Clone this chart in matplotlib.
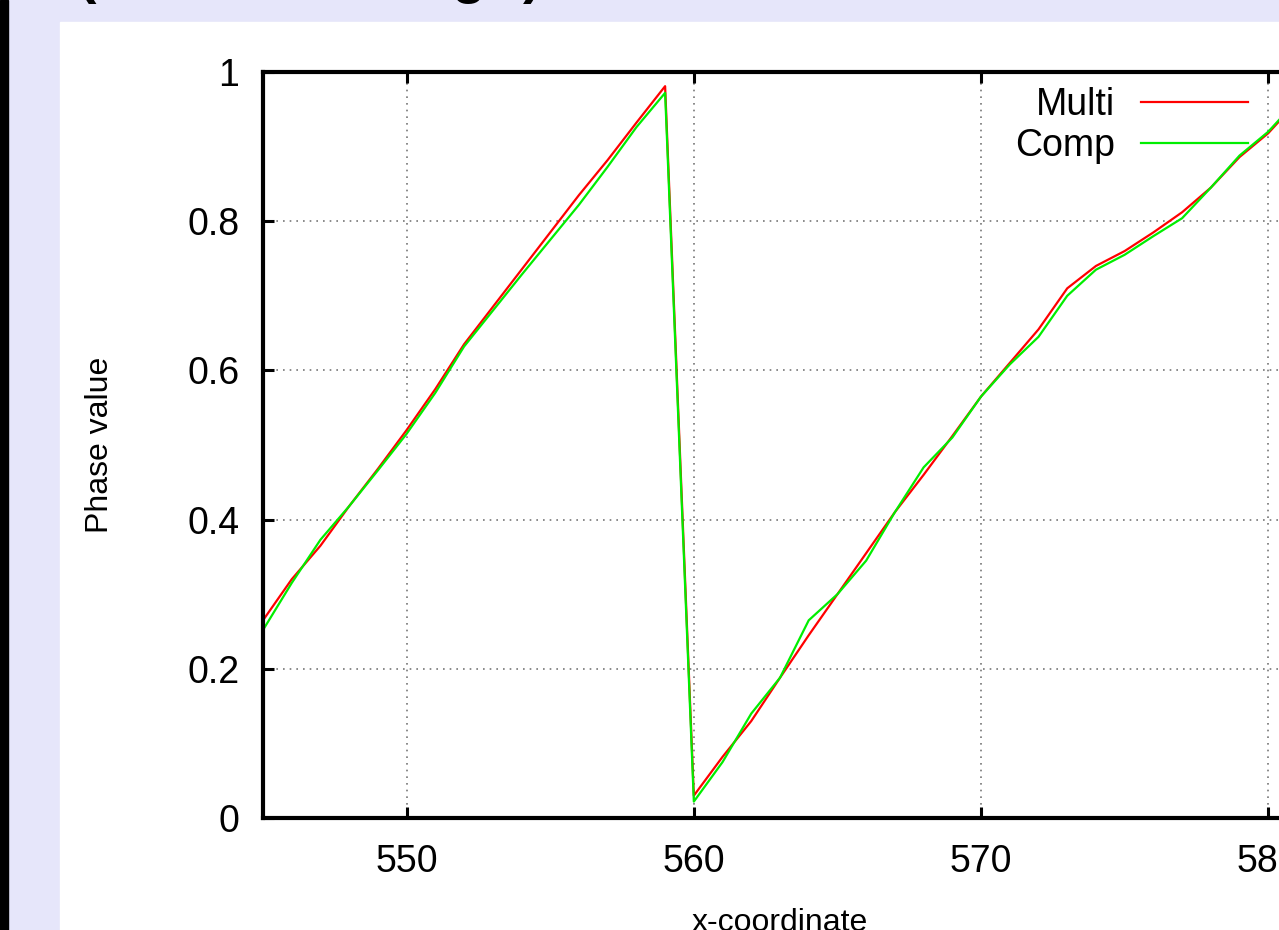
import matplotlib
matplotlib.use('Agg')
import matplotlib.pyplot as plt
from matplotlib.patches import Rectangle

plt.rcParams['font.family'] = ['Liberation Sans', 'DejaVu Sans']

# Phase values, one per integer x-coordinate
x = list(range(545, 582))
multi = [0.265, 0.32, 0.365, 0.418, 0.468, 0.52, 0.575, 0.635, 0.685, 0.735,
         0.785, 0.835, 0.882, 0.932, 0.981, 0.03, 0.082, 0.13, 0.188, 0.245,
         0.30, 0.355, 0.41, 0.46, 0.512, 0.565, 0.61, 0.655, 0.71, 0.74,
         0.76, 0.785, 0.812, 0.845, 0.886, 0.918, 0.96]
comp = [0.252, 0.315, 0.373, 0.418, 0.466, 0.515, 0.57, 0.632, 0.68, 0.728,
        0.775, 0.822, 0.873, 0.926, 0.972, 0.022, 0.075, 0.14, 0.188, 0.265,
        0.30, 0.345, 0.41, 0.47, 0.51, 0.565, 0.608, 0.645, 0.70, 0.735,
        0.755, 0.78, 0.804, 0.845, 0.888, 0.92, 0.962]

xticks = [550, 560, 570, 580]
yticks = [0, 0.2, 0.4, 0.6, 0.8, 1]
ytick_labels = ['0', '0.2', '0.4', '0.6', '0.8', '1']

W, H = 1279, 930
fig = plt.figure(figsize=(W / 100, H / 100), dpi=100)
fig.patch.set_facecolor('white')

# slide background: lavender border, black bar on the left
fig.patches.append(Rectangle((0, 0), 1, 1, transform=fig.transFigure,
                             color='#e6e6fa', zorder=-3))
fig.patches.append(Rectangle((60 / W, 0), 1, 1 - 22 / H, transform=fig.transFigure,
                             color='white', zorder=-2))
fig.patches.append(Rectangle((0, 0), 8 / W, 1, transform=fig.transFigure,
                             color='black', zorder=-1))

# bottoms of the cut-off slide title
for px, ch in [(86, '('), (469, 'g'), (532, ')')]:
    fig.text(px / W, 1 + 8 / H, ch, fontsize=40, fontweight='bold',
             ha='center', va='baseline')

ax = fig.add_axes([263 / W, (H - 818) / H, (1297 - 263) / W, 746 / H])
ax.plot(x, multi, color='#ff0000', lw=1.6, label='Multi')
ax.plot(x, comp, color='#00ee00', lw=1.6, label='Comp')

ax.set_xlim(545, 581)
ax.set_ylim(0, 1)
ax.set_xticks(xticks)
ax.set_yticks(yticks)
ax.set_yticklabels(ytick_labels)
ax.grid(True, color='#777777', linestyle=(0, (1, 3)), lw=1.2)

for s in ax.spines.values():
    s.set_linewidth(3)
ax.tick_params(direction='in', length=8, width=2.2, labelsize=27,
               top=True, right=True)
ax.tick_params(axis='y', pad=17)
ax.tick_params(axis='x', pad=19)

ax.set_ylabel('Phase value', fontsize=23, labelpad=52)
ax.set_xlabel('x-coordinate', fontsize=23, labelpad=20)

ax.legend(loc='upper right', bbox_to_anchor=(1248 / W, 1 - 87 / H),
          bbox_transform=fig.transFigure, frameon=False, markerfirst=False,
          fontsize=27, handlelength=2.85, handletextpad=0.7,
          labelspacing=0.14, borderpad=0, borderaxespad=0)

fig.savefig('out.png', dpi=100)
